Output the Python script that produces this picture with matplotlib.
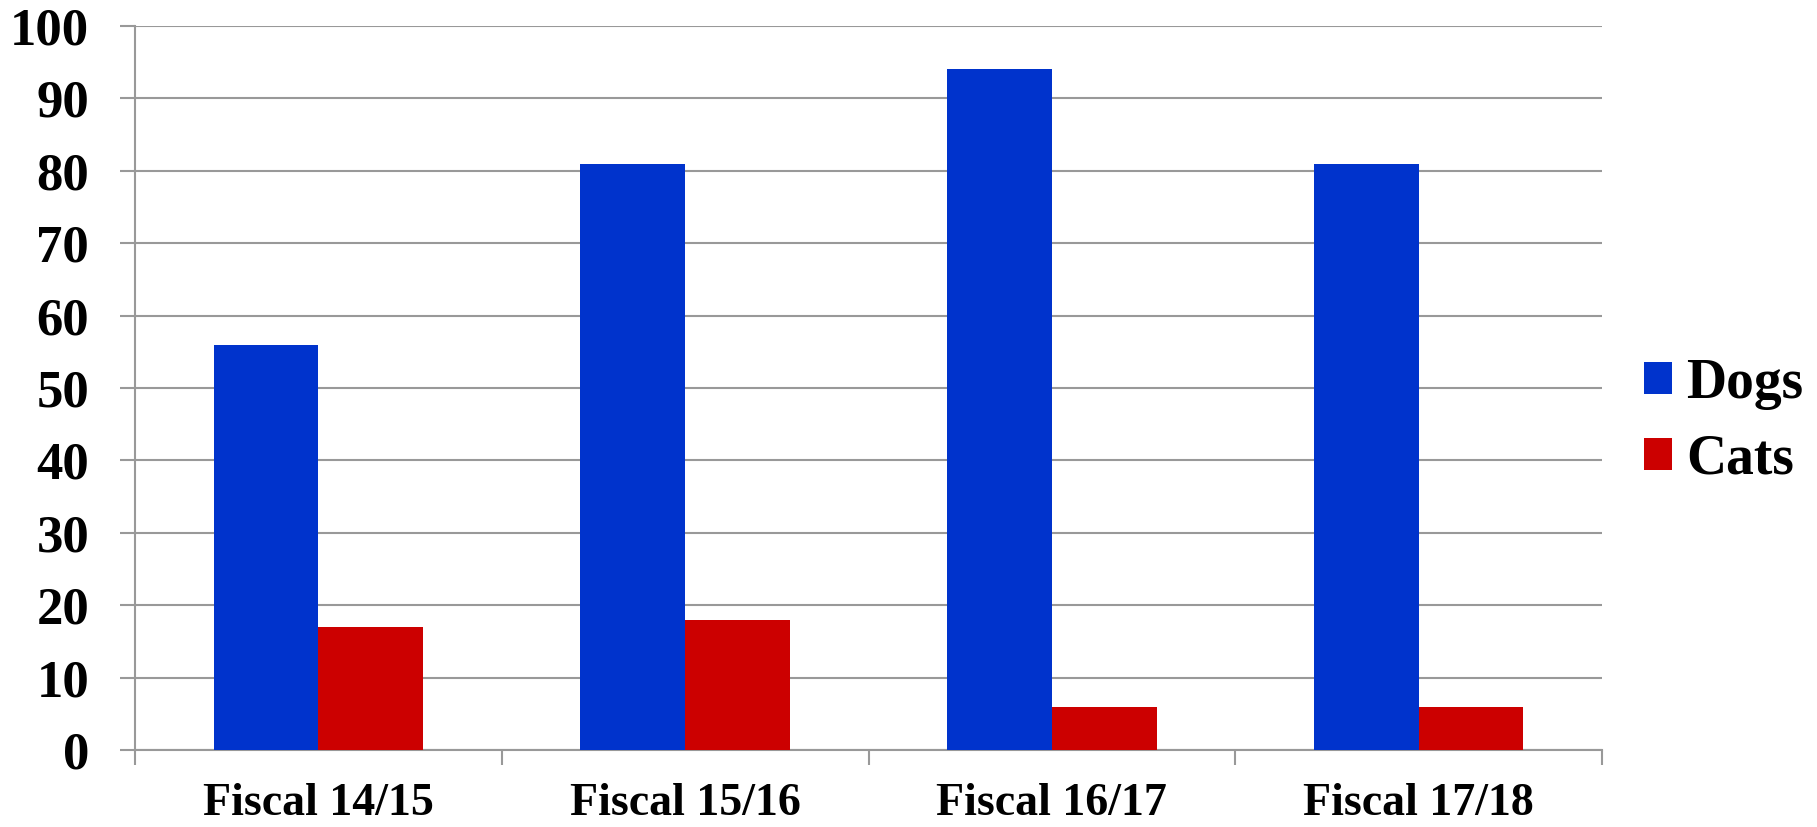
import numpy as np
import matplotlib.pyplot as plt

# Chart data
categories = ['Fiscal 14/15', 'Fiscal 15/16', 'Fiscal 16/17', 'Fiscal 17/18']
dogs = [56, 81, 94, 81]
cats = [17, 18, 6, 6]
y_ticks = list(range(0, 101, 10))

blue = '#0033CC'
red = '#CC0000'
grid_gray = '#999999'

plt.rcParams['font.family'] = ['Liberation Serif', 'DejaVu Serif']
plt.rcParams['font.weight'] = 'bold'

fig = plt.figure(figsize=(18.17, 8.27), dpi=100)
ax = fig.add_axes([0.0743, 0.0931, 0.8074, 0.8755])

x = np.arange(len(categories))
w = 1 / 3.5
ax.bar(x - w / 2, dogs, width=w, color=blue, label='Dogs', zorder=3)
ax.bar(x + w / 2, cats, width=w, color=red, label='Cats', zorder=3)

ax.set_xlim(-0.5, len(categories) - 0.5)
ax.set_ylim(0, 100)

# y axis: gridlines with short outward ticks
ax.set_yticks(y_ticks)
ax.yaxis.grid(True, color=grid_gray, linewidth=1.5, zorder=0)
ax.tick_params(axis='y', length=11, width=1.5, color=grid_gray, pad=22, labelsize=38)

# x axis: tick marks at category boundaries, labels at centres
ax.set_xticks(np.arange(-0.5, len(categories)), labels=[''] * (len(categories) + 1))
ax.set_xticks(x, labels=categories, minor=True)
ax.tick_params(axis='x', which='major', length=11, width=1.5, color=grid_gray)
ax.tick_params(axis='x', which='minor', length=0, pad=24, labelsize=33)

for side in ['top', 'right']:
    ax.spines[side].set_visible(False)
for side in ['left', 'bottom']:
    ax.spines[side].set_color(grid_gray)
    ax.spines[side].set_linewidth(1.5)

leg = fig.legend(loc='center left', bbox_to_anchor=(0.905, 0.49), frameon=False,
                 fontsize=40, handlelength=0.5, handleheight=0.5,
                 handletextpad=0.25, labelspacing=0.43, borderpad=0, borderaxespad=0)

plt.savefig('out.png', dpi=100)
